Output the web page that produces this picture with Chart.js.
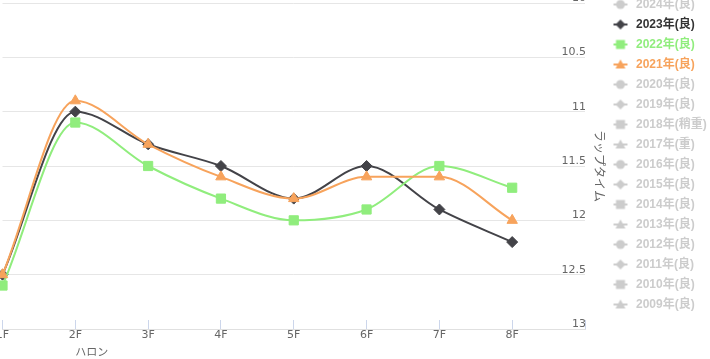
<!DOCTYPE html>
<html><head><meta charset="utf-8">
<script src="https://cdn.jsdelivr.net/npm/chart.js@4.4.1/dist/chart.umd.min.js"></script>
<style>
html,body{margin:0;padding:0;width:710px;height:359px;overflow:hidden;background:#fff;}
#wrap{position:absolute;left:-40px;top:-20px;width:750px;height:379px;}
</style></head><body>
<div id="wrap"><canvas id="c"></canvas></div>
<script>
// ---- data ----
const categories = ['1F','2F','3F','4F','5F','6F','7F','8F'];
const seriesNames = ['2024年(良)','2023年(良)','2022年(良)','2021年(良)','2020年(良)','2019年(良)','2018年(稍重)','2017年(重)','2016年(良)','2015年(良)','2014年(良)','2013年(良)','2012年(良)','2011年(良)','2010年(良)','2009年(良)'];
const seriesMarkers = ['circle','rectRot','rect','triangle','circle','rectRot','rect','triangle','circle','rectRot','rect','triangle','circle','rectRot','rect','triangle'];
const lap2023 = [12.5, 11.0, 11.3, 11.5, 11.8, 11.5, 11.9, 12.2];
const lap2022 = [12.6, 11.1, 11.5, 11.8, 12.0, 11.9, 11.5, 11.7];
const lap2021 = [12.5, 10.9, 11.3, 11.6, 11.8, 11.6, 11.6, 12.0];
const yTicks = [10, 10.5, 11, 11.5, 12, 12.5, 13];
const yAxisTitle = 'ラップタイム';
const xAxisTitle = 'ハロン';

const visibleData = {'2023年(良)': lap2023, '2022年(良)': lap2022, '2021年(良)': lap2021};
const seriesColors = {'2023年(良)': '#434348', '2022年(良)': '#90ed7d', '2021年(良)': '#f7a35c'};
const textColors = {'2023年(良)': '#333333', '2022年(良)': '#90ed7d', '2021年(良)': '#f7a35c'};
const markerRadius = {circle: 5, rectRot: 5.5, rect: 6.5, triangle: 6};
const hiddenColor = '#cccccc';

function makeIcon(color, style){
  const c = document.createElement('canvas'); c.width = 16; c.height = 12;
  const g = c.getContext('2d');
  g.strokeStyle = color; g.lineWidth = 2;
  g.beginPath(); g.moveTo(1,6); g.lineTo(15,6); g.stroke();
  g.fillStyle = color; g.beginPath();
  if (style === 'circle') g.arc(8,6,4.5,0,Math.PI*2);
  else if (style === 'rectRot') { g.moveTo(8,1); g.lineTo(13,6); g.lineTo(8,11); g.lineTo(3,6); g.closePath(); }
  else if (style === 'rect') g.rect(3.5,1.5,9,9);
  else { g.moveTo(8,1); g.lineTo(13,10); g.lineTo(3,10); g.closePath(); }
  g.fill();
  return c;
}

const N = seriesNames.length;
const datasets = seriesNames.map((name, i) => {
  const shown = name in visibleData;
  const col = shown ? seriesColors[name] : hiddenColor;
  return {
    label: name,
    data: shown ? visibleData[name] : [],
    hidden: !shown,
    borderColor: col,
    backgroundColor: col,
    borderWidth: 2,
    cubicInterpolationMode: 'monotone',
    pointStyle: seriesMarkers[i],
    pointRadius: markerRadius[seriesMarkers[i]],
    pointBorderWidth: 1,
    pointBorderColor: col,
    pointBackgroundColor: col,
    clip: false,
    order: N - i,
    _icon: makeIcon(col, seriesMarkers[i]),
    _textColor: shown ? textColors[name] : hiddenColor
  };
});

const xTitlePlugin = {
  id: 'xTitle',
  afterDraw(chart){
    const s = chart.scales.x, ctx = chart.ctx;
    ctx.save();
    ctx.font = '11px "DejaVu Sans", "Noto Sans CJK JP", sans-serif';
    ctx.fillStyle = '#666666';
    ctx.textAlign = 'left'; ctx.textBaseline = 'middle';
    ctx.fillText(xAxisTitle, s.getPixelForTick(1), s.top + 24);
    ctx.restore();
  }
};

new Chart(document.getElementById('c'), {
  type: 'line',
  data: { labels: [...categories, ''], datasets },
  options: {
    responsive: true, maintainAspectRatio: false, animation: false, devicePixelRatio: 1,
    events: [],
    layout: { padding: { left: 42.5, top: 10.5, right: 0, bottom: 0 } },
    plugins: {
      tooltip: { enabled: false },
      legend: {
        position: 'right', align: 'start', maxWidth: 107,
        labels: {
          usePointStyle: true, pointStyleWidth: 19, padding: 8,
          font: { size: 12, weight: 'bold', family: '"Liberation Sans", "Noto Sans CJK JP", sans-serif' },
          generateLabels(chart){
            return chart.data.datasets.map((ds, i) => ({
              text: ds.label, fillStyle: ds.borderColor, strokeStyle: ds.borderColor,
              fontColor: ds._textColor, hidden: false, lineWidth: 0,
              pointStyle: ds._icon, datasetIndex: i
            }));
          }
        }
      }
    },
    scales: {
      x: {
        type: 'category',
        grid: { drawOnChartArea: false, drawTicks: true, tickLength: -9, color: '#ccd6eb' },
        border: { display: true, color: '#e0e0e0' },
        ticks: { color: '#666666', font: { size: 11, family: '"DejaVu Sans", sans-serif' }, padding: 9, maxRotation: 0, autoSkip: false },
        afterFit(s){ s.height = 30; }
      },
      y: {
        position: 'right', reverse: true, min: 10, max: 13,
        afterBuildTicks(s){ s.ticks = yTicks.map(v => ({ value: v })); },
        grid: { color: '#e6e6e6', drawTicks: false, tickLength: 0 },
        border: { display: false },
        ticks: { mirror: true, padding: 1, labelOffset: -5, color: '#666666', font: { size: 11, family: '"DejaVu Sans", sans-serif' },
                 callback: (v) => String(v) },
        title: { display: true, text: yAxisTitle, color: '#666666', font: { size: 12, family: '"DejaVu Sans", "Noto Sans CJK JP", sans-serif' }, padding: { top: -2.2, bottom: 0 } },
        afterFit(s){ s.width = 18; s.paddingTop = 23; s.paddingBottom = 0; }
      }
    }
  },
  plugins: [xTitlePlugin]
});
</script>
</body></html>
